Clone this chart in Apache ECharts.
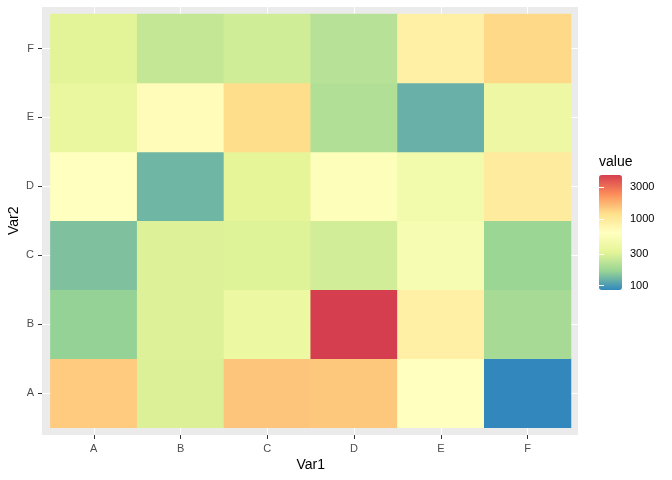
<!DOCTYPE html>
<html>
<head>
<meta charset="utf-8">
<title>heatmap</title>
<script src="https://cdn.jsdelivr.net/npm/echarts@6/dist/echarts.min.js"></script>
<style>
    html, body { margin: 0; padding: 0; background: #fff; }
    #chart1 { width: 672px; height: 480px; }
</style>
</head>
<body>
<div id="chart1"></div>
<script>
// categories
var var1 = ["A", "B", "C", "D", "E", "F"];
var var2 = ["A", "B", "C", "D", "E", "F"];
// values of each Var2 row, in Var1 order
var rowA = [1435, 296, 1510, 1476, 627, 85.5];
var rowB = [162, 299, 388, 4590, 861, 186];
var rowC = [140, 299, 301, 272, 507, 170];
var rowD = [627, 127, 322, 578, 443, 963];
var rowE = [359, 679, 1233, 204, 121, 399];
var rowF = [315, 241, 265, 214, 861, 1283];
// legend breaks
var legendBreaks = [100, 300, 1000, 3000];
// Spectral palette, low -> high
var spectral = ["#3288BD", "#99D594", "#E6F598", "#FFFFBF", "#FEE08B", "#FC8D59", "#D53E4F"];

var index = {
    init: function () {
        var mychart = echarts.init(document.getElementById("chart1"));
        this.load(mychart);
    },
    load: function (mychart) {
        var rows = [rowA, rowB, rowC, rowD, rowE, rowF];
        var _data = [];
        var all = [];
        rows.forEach(function (row, yi) {
            row.forEach(function (v, xi) {
                _data.push([xi, yi, Math.log10(v), v]);
                all.push(v);
            });
        });
        var lmin = Math.log10(Math.min.apply(null, all));
        var lmax = Math.log10(Math.max.apply(null, all));
        var breaks = legendBreaks.map(function (b) { return Math.log10(b); });

        //layout
        var panel = { left: 42, top: 7, width: 536, height: 428 };
        var tiles = { left: 50.4, top: 14, width: 520.6, height: 413.7 };
        var bar = { left: 599, top: 175, width: 23, height: 115 };
        var cw = tiles.width / var1.length;
        var ch = tiles.height / var2.length;

        var white = { show: true, lineStyle: { color: "#fff", width: 1 } };
        var off = { show: false };

        var option = {
            animation: false,
            textStyle: { fontFamily: "Liberation Sans, Arial, sans-serif" },
            title: {
                text: "value",
                left: bar.left,
                top: 155,
                padding: 0,
                textStyle: { fontSize: 14, fontWeight: "normal", color: "#000" }
            },
            grid: [
                // grey panel
                { left: panel.left, top: panel.top, width: panel.width, height: panel.height,
                    show: true, backgroundColor: "#EBEBEB", borderWidth: 0, z: -2, outerBoundsMode: "none" },
                // vertical grid lines at Var1 centers
                { left: tiles.left + cw / 2, top: panel.top, width: cw * (var1.length - 1), height: panel.height,
                    z: -1, outerBoundsMode: "none" },
                // horizontal grid lines at Var2 centers
                { left: panel.left, top: tiles.top + ch / 2, width: panel.width, height: ch * (var2.length - 1),
                    z: -1, outerBoundsMode: "none" },
                // tiles
                { left: tiles.left, top: tiles.top, width: tiles.width, height: tiles.height, outerBoundsMode: "none" },
                // colour bar
                { left: bar.left, top: bar.top, width: bar.width, height: bar.height, outerBoundsMode: "none" }
            ],
            xAxis: [
                { gridIndex: 0, type: "value", show: false },
                { gridIndex: 1, type: "value", min: 0, max: var1.length - 1, interval: 1, z: -1,
                    axisLine: off, axisTick: off, axisLabel: off, splitLine: white },
                { gridIndex: 2, type: "value", show: false },
                {
                    gridIndex: 3, type: "category", data: var1, position: "bottom",
                    offset: panel.top + panel.height - (tiles.top + tiles.height),
                    name: "Var1", nameLocation: "middle", nameGap: 23, nameMoveOverlap: false,
                    nameTextStyle: { fontSize: 14, color: "#000" },
                    axisLine: off,
                    axisTick: { show: true, alignWithLabel: true, length: 4, lineStyle: { color: "#333" } },
                    axisLabel: { color: "#4D4D4D", fontSize: 11, margin: 8 },
                    splitLine: off
                },
                { gridIndex: 4, type: "value", show: false }
            ],
            yAxis: [
                { gridIndex: 0, type: "value", show: false },
                { gridIndex: 1, type: "value", show: false },
                { gridIndex: 2, type: "value", min: 0, max: var2.length - 1, interval: 1, z: -1,
                    axisLine: off, axisTick: off, axisLabel: off, splitLine: white },
                {
                    gridIndex: 3, type: "category", data: var2, position: "left",
                    offset: tiles.left - panel.left,
                    name: "Var2", nameLocation: "middle", nameGap: 21, nameRotate: 90, nameMoveOverlap: false,
                    nameTextStyle: { fontSize: 14, color: "#000" },
                    axisLine: off,
                    axisTick: { show: true, alignWithLabel: true, length: 4, lineStyle: { color: "#333" } },
                    axisLabel: { color: "#4D4D4D", fontSize: 11, margin: 8 },
                    splitLine: off
                },
                {
                    gridIndex: 4, type: "value", position: "right", min: lmin, max: lmax, z: 10,
                    axisLine: off, splitLine: off,
                    axisTick: { show: true, inside: true, length: 5, customValues: breaks,
                        lineStyle: { color: "#fff", width: 1 } },
                    axisLabel: { show: true, customValues: breaks, margin: 8, fontSize: 11, color: "#000",
                        formatter: function (v) { return Math.round(Math.pow(10, v)); } }
                },
                {
                    gridIndex: 4, type: "value", position: "left", min: lmin, max: lmax, z: 10,
                    axisLine: off, splitLine: off, axisLabel: off,
                    axisTick: { show: true, inside: true, length: 5, customValues: breaks,
                        lineStyle: { color: "#fff", width: 1 } }
                }
            ],
            visualMap: {
                type: "continuous",
                seriesIndex: 0,
                dimension: 2,
                min: lmin,
                max: lmax,
                calculable: false,
                hoverLink: false,
                left: bar.left,
                top: bar.top,
                padding: 0,
                itemWidth: bar.width,
                itemHeight: bar.height,
                inRange: { color: spectral }
            },
            series: [
                {
                    type: "heatmap",
                    xAxisIndex: 3,
                    yAxisIndex: 3,
                    data: _data,
                    emphasis: { disabled: true }
                }
            ]
        };
        mychart.setOption(option);
    }
};

index.init();
</script>
</body>
</html>
